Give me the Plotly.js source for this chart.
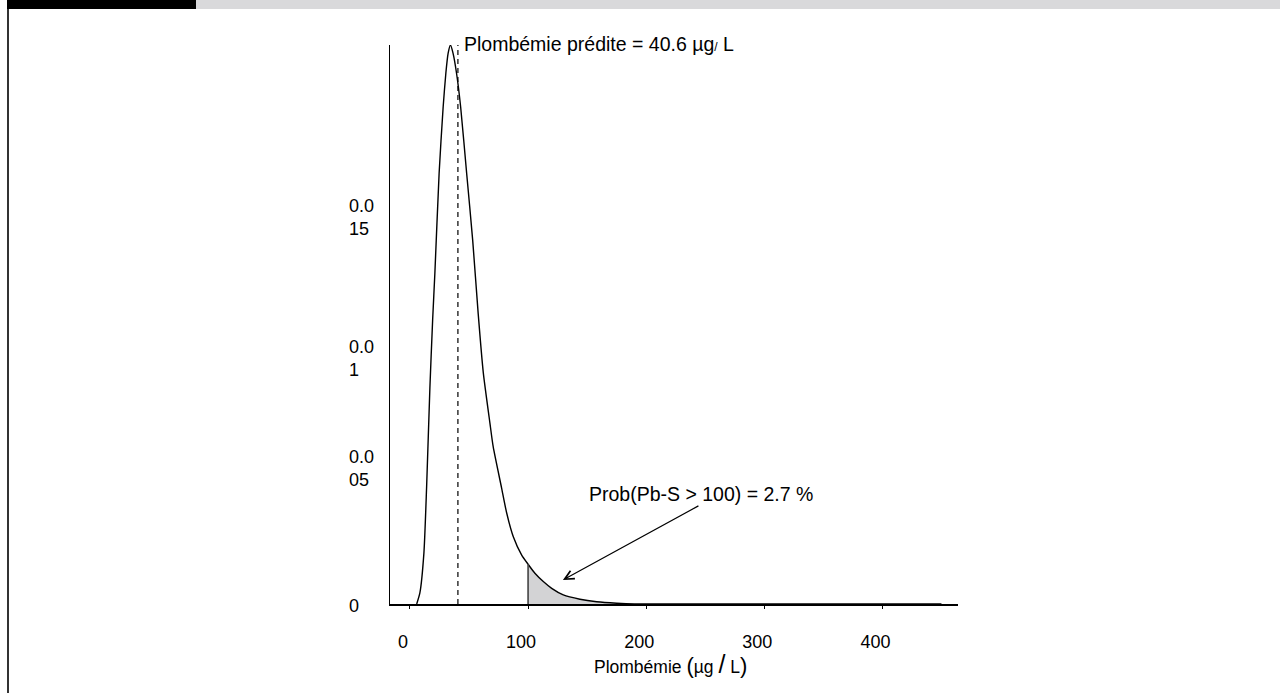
<!DOCTYPE html>
<html>
<head>
<meta charset="utf-8">
<script src="https://cdn.plot.ly/plotly-3.0.1.min.js"></script>
<style>
  html, body { margin: 0; padding: 0; background: #ffffff; }
  #wrap { position: relative; width: 1280px; height: 693px; overflow: hidden; }
  #chart { position: absolute; left: 0; top: 0; width: 1280px; height: 693px; }
  .blackbar { position: absolute; left: 7px; top: 0; width: 189px; height: 9px; background: #000; z-index: 5; }
  .graybar { position: absolute; left: 196px; top: 0; width: 1084px; height: 9px; background: #d9d9db; z-index: 5; }
  .leftline { position: absolute; left: 7px; top: 9px; width: 2px; height: 684px; background: #333; z-index: 5; }
</style>
</head>
<body>
<div id="wrap">
  <div id="chart"></div>
  <div class="blackbar"></div>
  <div class="graybar"></div>
  <div class="leftline"></div>
</div>
<script>
// Density curve of predicted blood lead
const curveX = [5.7, 8.4, 11.8, 14.1, 16.9, 19.2, 21.1, 24.7, 28.1, 30.4, 32.3, 34.3, 36.5, 39.4, 42.9, 48.0, 53.1, 57.8, 62.1, 67.7, 70.5, 77.6, 81.9, 87.5, 94.6, 100, 105.8, 112.9, 120, 129.8, 143.9, 158.1, 175, 190, 450];
const curveY = [0, 0.00044, 0.00202, 0.00464, 0.00861, 0.01127, 0.01313, 0.0171, 0.01972, 0.02107, 0.02185, 0.02218, 0.02185, 0.02107, 0.01973, 0.01709, 0.01444, 0.0115, 0.00917, 0.00718, 0.00623, 0.0046, 0.00361, 0.00267, 0.00194, 0.00158, 0.00122, 0.00089, 0.00062, 0.00036, 0.00019, 0.00009, 0.00003, 0, 0];

const predicted = 40.6;      // µg/L
const threshold = 100;       // µg/L
const probText = "Prob(Pb-S > 100) = 2.7 %";
const predText = "Plombémie prédite = 40.6 µg<span style='font-size:12px'>/</span> L";
const xTitle = "Plombémie <span style='font-size:22px'>(</span>µg <span style='font-size:25px'>/</span> L<span style='font-size:22px'>)</span>";

const xTickVals = [0, 100, 200, 300, 400];
const xTickText = ["0", "100", "200", "300", "400"];
const yTickVals = [0, 0.005, 0.01, 0.015];
const yTickText = ["0", "0.0<br>05", "0.0<br>1", "0.0<br>15"];
const yLabelNudge = [-2, 9, -7, 8];   // pixel nudges of the y labels as placed in the picture

// shaded tail
const shadeX = [], shadeY = [];
for (let i = 0; i < curveX.length; i++) {
  if (curveX[i] >= threshold && curveX[i] <= 200) { shadeX.push(curveX[i]); shadeY.push(curveY[i]); }
}
const yAtThreshold = curveY[curveX.indexOf(threshold)];

const FONT = "'Liberation Sans', Arial, Helvetica, sans-serif";

const traces = [
  {
    x: shadeX, y: shadeY, type: 'scatter', mode: 'lines',
    fill: 'tozeroy', fillcolor: '#d3d3d5',
    line: { width: 0, shape: 'spline', smoothing: 0.6 },
    hoverinfo: 'skip', showlegend: false
  },
  {
    x: curveX, y: curveY, type: 'scatter', mode: 'lines',
    line: { color: '#000', width: 1.4, shape: 'spline', smoothing: 0.6 },
    showlegend: false
  }
];

const annotations = [
  {
    x: predicted, xref: 'x', y: 1, yref: 'paper',
    xanchor: 'left', yanchor: 'middle', xshift: 4, yshift: 1,
    text: predText, showarrow: false,
    font: { family: FONT, size: 19.5, color: '#000' }
  },
  {
    x: 246.4, xref: 'x', y: 0.00437, yref: 'y',
    xanchor: 'center', yanchor: 'middle',
    text: probText, showarrow: false,
    font: { family: FONT, size: 19.5, color: '#000' }
  },
  {
    x: 129.5, xref: 'x', y: 0.00095, yref: 'y',
    ax: 137, ay: -75, text: '', showarrow: true,
    arrowhead: 5, arrowsize: 1.5, arrowwidth: 1.2, arrowcolor: '#000'
  },
  {
    x: 0.4947, xref: 'paper', y: -0.108, yref: 'paper',
    xanchor: 'center', yanchor: 'middle',
    text: xTitle, showarrow: false,
    font: { family: FONT, size: 17.5, color: '#000' }
  }
];
yTickVals.forEach((v, i) => {
  annotations.push({
    x: -0.0757, xref: 'paper', y: v, yref: 'y',
    xanchor: 'left', yanchor: 'middle', align: 'left', yshift: yLabelNudge[i],
    text: yTickText[i], showarrow: false,
    font: { family: FONT, size: 18, color: '#000' }
  });
});

const layout = {
  width: 1280, height: 693,
  margin: { l: 390, r: 322, t: 45, b: 89, pad: 0 },
  paper_bgcolor: '#ffffff', plot_bgcolor: '#ffffff',
  showlegend: false,
  font: { family: FONT, size: 18, color: '#000' },
  xaxis: {
    range: [-16.9, 464], showgrid: false, zeroline: false,
    showline: true, linecolor: '#000', linewidth: 1.5,
    tickvals: xTickVals, ticktext: xTickText,
    ticks: 'outside', ticklen: 3, tickcolor: '#000', tickwidth: 1,
    ticklabelstandoff: 18, ticklabelshift: -7,
    tickfont: { family: FONT, size: 18, color: '#000' }
  },
  yaxis: {
    range: [0, 0.02218], showgrid: false, zeroline: false,
    showline: true, linecolor: '#000', linewidth: 1.5,
    showticklabels: false, ticks: ''
  },
  shapes: [
    {
      type: 'line', xref: 'x', yref: 'paper',
      x0: predicted, x1: predicted, y0: 0, y1: 1,
      line: { color: '#000', width: 1.2, dash: '5px,4px' }
    },
    {
      type: 'line', xref: 'x', yref: 'y',
      x0: threshold, x1: threshold, y0: 0, y1: yAtThreshold,
      line: { color: '#444', width: 1.6 }
    }
  ],
  annotations: annotations
};

Plotly.newPlot('chart', traces, layout, { displayModeBar: false, staticPlot: true });
</script>
</body>
</html>
